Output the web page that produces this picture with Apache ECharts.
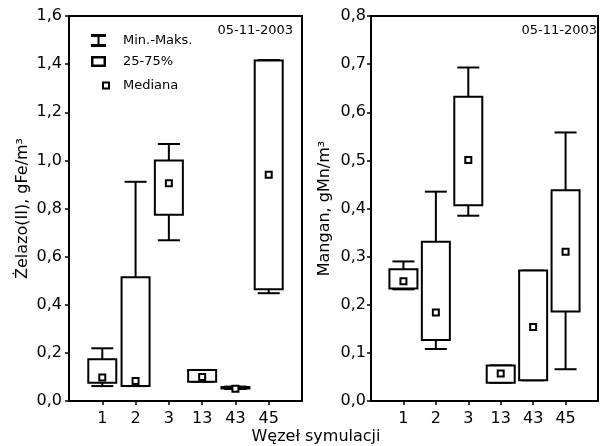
<!DOCTYPE html>
<html>
<head>
<meta charset="utf-8">
<script src="https://cdn.jsdelivr.net/npm/echarts@6/dist/echarts.min.js"></script>
<style>
  html, body { margin: 0; padding: 0; background: #fff; }
  #main { width: 601px; height: 446px; }
</style>
</head>
<body>
<div id="main"></div>
<script>
// węzły symulacji (kategorie osi X)
var nodes = ['1', '2', '3', '13', '43', '45'];

// Żelazo(II), gFe/m3
var feMin = [0.062, 0.062, 0.668, 0.080, 0.050, 0.448];
var feQ1  = [0.076, 0.062, 0.774, 0.080, 0.052, 0.464];
var feMed = [0.098, 0.083, 0.905, 0.100, 0.051, 0.940];
var feQ3  = [0.173, 0.514, 1.000, 0.129, 0.058, 1.415];
var feMax = [0.219, 0.911, 1.068, 0.129, 0.060, 1.417];

// Mangan, gMn/m3
var mnMin = [0.232, 0.108, 0.385, 0.038, 0.043, 0.066];
var mnQ1  = [0.234, 0.127, 0.407, 0.038, 0.043, 0.186];
var mnMed = [0.249, 0.184, 0.501, 0.057, 0.154, 0.310];
var mnQ3  = [0.274, 0.331, 0.632, 0.074, 0.271, 0.438];
var mnMax = [0.290, 0.435, 0.693, 0.074, 0.271, 0.558];

var dateText = '05-11-2003';
var font = 'DejaVu Sans';

var cats = [''].concat(nodes).concat(['']);

function whiskerData(mn, q1, q3, mx) {
    var out = [];
    for (var i = 0; i < nodes.length; i++) out.push([i + 1, mn[i], q1[i], q3[i], mx[i]]);
    return out;
}
function boxData(q1, q3) {
    var out = [];
    for (var i = 0; i < nodes.length; i++) out.push([i + 1, q1[i], q3[i]]);
    return out;
}
function medData(md) {
    var out = [];
    for (var i = 0; i < nodes.length; i++) out.push([i + 1, md[i]]);
    return out;
}

var lineStyle = { stroke: '#000', lineWidth: 2 };

function renderWhisker(params, api) {
    var x = api.value(0);
    var lo = api.coord([x, api.value(1)]);
    var q1 = api.coord([x, api.value(2)]);
    var q3 = api.coord([x, api.value(3)]);
    var hi = api.coord([x, api.value(4)]);
    var half = 11;
    return {
        type: 'group',
        children: [
            { type: 'line', shape: { x1: hi[0], y1: hi[1], x2: q3[0], y2: q3[1] }, style: lineStyle },
            { type: 'line', shape: { x1: hi[0] - half, y1: hi[1], x2: hi[0] + half, y2: hi[1] }, style: lineStyle },
            { type: 'line', shape: { x1: lo[0], y1: lo[1], x2: q1[0], y2: q1[1] }, style: lineStyle },
            { type: 'line', shape: { x1: lo[0] - half, y1: lo[1], x2: lo[0] + half, y2: lo[1] }, style: lineStyle }
        ]
    };
}

function renderBox(params, api) {
    var x = api.value(0);
    var q1 = api.coord([x, api.value(1)]);
    var q3 = api.coord([x, api.value(2)]);
    var half = 14;
    return {
        type: 'rect',
        shape: { x: q1[0] - half, y: q3[1], width: half * 2, height: q1[1] - q3[1] },
        style: { fill: '#fff', stroke: '#000', lineWidth: 2 }
    };
}

function commaFmt(v) {
    return v.toFixed(1).replace('.', ',');
}

function xAxisCfg(gridIndex) {
    return {
        type: 'category',
        gridIndex: gridIndex,
        data: cats,
        boundaryGap: false,
        axisLine: { lineStyle: { color: '#000', width: 2 } },
        axisTick: {
            inside: false, length: 4, lineStyle: { color: '#000', width: 1.5 },
            interval: function (idx) { return idx > 0 && idx < cats.length - 1; }
        },
        axisLabel: { color: '#000', fontSize: 16, fontFamily: font, margin: 10, interval: 0 },
        splitLine: { show: false }
    };
}

function yAxisCfg(gridIndex, name, max, interval, margin) {
    return {
        type: 'value',
        gridIndex: gridIndex,
        min: 0,
        max: max,
        interval: interval,
        name: name,
        nameLocation: 'middle',
        nameGap: 38,
        nameRotate: 90,
        nameTextStyle: { color: '#000', fontSize: 16, fontFamily: font },
        axisLine: { show: true, lineStyle: { color: '#000', width: 2 } },
        axisTick: { show: true, length: 4, lineStyle: { color: '#000', width: 1.5 } },
        axisLabel: { color: '#000', fontSize: 16, fontFamily: font, margin: margin, formatter: commaFmt },
        splitLine: { show: false }
    };
}

// ikony legendy
var whiskerIcon = 'path://M0,0H15V3H0Z M6.5,3H8.5V10H6.5Z M0,10H15V13H0Z';
var boxIcon = 'path://M0,0H15V11H0Z M2.5,2.5V8.5H12.5V2.5Z';
var medIcon = 'path://M0,0H8V8H0Z M2,2V6H6V2Z';

var legendText = { color: '#000', fontSize: 13, fontFamily: font };

var myChart = echarts.init(document.getElementById('main'), null, { renderer: 'canvas' });

var option = {
    animation: false,
    textStyle: { fontFamily: font },
    title: [
        { text: dateText, right: 308, top: 24, padding: 0,
          textStyle: { color: '#000', fontSize: 13, fontWeight: 'normal', fontFamily: font } },
        { text: dateText, right: 4, top: 24, padding: 0,
          textStyle: { color: '#000', fontSize: 13, fontWeight: 'normal', fontFamily: font } }
    ],
    legend: [
        { left: 91, top: 34, padding: 0, itemWidth: 15, itemHeight: 13, selectedMode: false,
          textStyle: Object.assign({ padding: [0, 0, 0, 12] }, legendText),
          data: [{ name: 'Min.-Maks.', icon: whiskerIcon, itemStyle: { color: '#000', borderWidth: 0 } }] },
        { left: 91, top: 55, padding: 0, itemWidth: 15, itemHeight: 11, selectedMode: false,
          textStyle: Object.assign({ padding: [0, 0, 0, 12] }, legendText),
          data: [{ name: '25-75%', icon: boxIcon, itemStyle: { color: '#000', borderWidth: 0 } }] },
        { left: 102, top: 79, padding: 0, itemWidth: 8, itemHeight: 8, selectedMode: false,
          textStyle: Object.assign({ padding: [0, 0, 0, 8] }, legendText),
          data: [{ name: 'Mediana', icon: medIcon, itemStyle: { color: '#000', borderWidth: 0 } }] }
    ],
    grid: [
        { left: 69, top: 16, width: 233, height: 385, show: true, borderColor: '#000', borderWidth: 2, backgroundColor: 'transparent' },
        { left: 371, top: 16, width: 237, height: 385, show: true, borderColor: '#000', borderWidth: 2, backgroundColor: 'transparent' }
    ],
    xAxis: [xAxisCfg(0), xAxisCfg(1)],
    yAxis: [
        yAxisCfg(0, 'Żelazo(II), gFe/m³', 1.6, 0.2, 7),
        yAxisCfg(1, 'Mangan, gMn/m³', 0.8, 0.1, 5)
    ],
    graphic: [
        { type: 'text', x: 316, y: 437,
          style: { text: 'Węzeł symulacji', fill: '#000', font: '16px "DejaVu Sans"', align: 'center', verticalAlign: 'middle' } }
    ],
    series: [
        { name: 'Min.-Maks.', type: 'custom', xAxisIndex: 0, yAxisIndex: 0, renderItem: renderWhisker,
          itemStyle: { color: '#000' }, encode: { x: 0, y: [1, 2, 3, 4] }, data: whiskerData(feMin, feQ1, feQ3, feMax) },
        { name: '25-75%', type: 'custom', xAxisIndex: 0, yAxisIndex: 0, renderItem: renderBox,
          itemStyle: { color: '#000' }, encode: { x: 0, y: [1, 2] }, data: boxData(feQ1, feQ3) },
        { name: 'Mediana', type: 'scatter', xAxisIndex: 0, yAxisIndex: 0, symbol: 'rect', symbolSize: 6,
          itemStyle: { color: '#fff', borderColor: '#000', borderWidth: 2, opacity: 1 }, z: 5, data: medData(feMed) },

        { name: 'Min.-Maks.', type: 'custom', xAxisIndex: 1, yAxisIndex: 1, renderItem: renderWhisker,
          itemStyle: { color: '#000' }, encode: { x: 0, y: [1, 2, 3, 4] }, data: whiskerData(mnMin, mnQ1, mnQ3, mnMax) },
        { name: '25-75%', type: 'custom', xAxisIndex: 1, yAxisIndex: 1, renderItem: renderBox,
          itemStyle: { color: '#000' }, encode: { x: 0, y: [1, 2] }, data: boxData(mnQ1, mnQ3) },
        { name: 'Mediana', type: 'scatter', xAxisIndex: 1, yAxisIndex: 1, symbol: 'rect', symbolSize: 6,
          itemStyle: { color: '#fff', borderColor: '#000', borderWidth: 2, opacity: 1 }, z: 5, data: medData(mnMed) }
    ]
};

myChart.setOption(option);
</script>
</body>
</html>
